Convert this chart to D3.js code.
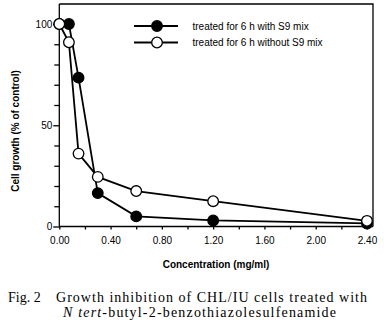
<!DOCTYPE html>
<html>
<head>
<meta charset="utf-8">
<script src="https://cdnjs.cloudflare.com/ajax/libs/d3/7.8.5/d3.min.js"></script>
<style>
  html, body { margin: 0; padding: 0; background: #fff; }
  svg { display: block; }
  .tick text { font-family: "Liberation Sans", Arial, sans-serif; font-size: 10px; fill: #000; }
</style>
</head>
<body>
<svg id="chart" width="384" height="326"></svg>
<script>
// Concentrations (mg/ml) and cell growth (% of control)
const concWithS9 = [0, 0.075, 0.15, 0.3, 0.6, 1.2, 2.4];
const growthWithS9 = [100, 100, 73.5, 16.5, 5, 3, 1.5];
const concWithoutS9 = [0, 0.075, 0.15, 0.3, 0.6, 1.2, 2.4];
const growthWithoutS9 = [100, 91, 36, 24.5, 17.5, 12.5, 2.8];
const seriesNames = ["treated for 6 h with S9 mix", "treated for 6 h without S9 mix"];
const xTickValues = [0, 0.4, 0.8, 1.2, 1.6, 2.0, 2.4];
const xMinorTicks = [0.2, 0.6, 1.0, 1.4, 1.8, 2.2];
const yTickValues = [0, 50, 100];
const yMinorTicks = [10, 20, 30, 40, 60, 70, 80, 90];

const svg = d3.select("#chart");
const plotL = 59.3, plotR = 373, plotT = 4, plotB = 226.5;

const x = d3.scaleLinear().domain([0, 2.4]).range([plotL, 367]);
const y = d3.scaleLinear().domain([0, 100]).range([plotB, 24]);

// Frame (top and right edges)
svg.append("path")
  .attr("d", `M${plotL},${plotT}H${plotR}V${plotB}`)
  .attr("fill", "none").attr("stroke", "#000").attr("stroke-width", 1.3);

// X axis
const xAxis = svg.append("g").attr("transform", `translate(0,${plotB})`)
  .call(d3.axisBottom(x).tickValues(xTickValues).tickFormat(d3.format(".2f")).tickSize(3).tickPadding(7));
svg.append("g").attr("transform", `translate(0,${plotB})`)
  .call(d3.axisBottom(x).tickValues(xMinorTicks).tickFormat("").tickSize(3))
  .select(".domain").remove();
xAxis.select(".domain").attr("d", `M${plotL},0H${plotR}`);

// Y axis
const yAxis = svg.append("g").attr("transform", `translate(${plotL},0)`)
  .call(d3.axisLeft(y).tickValues(yTickValues).tickSize(6).tickPadding(1));
svg.append("g").attr("transform", `translate(${plotL},0)`)
  .call(d3.axisLeft(y).tickValues(yMinorTicks).tickFormat("").tickSize(5))
  .select(".domain").remove();
yAxis.select(".domain").attr("d", `M0,${plotB}V${plotT}`);

svg.selectAll(".domain, .tick line").attr("stroke", "#000").attr("stroke-width", 1.3);

// Axis titles
svg.append("text")
  .attr("x", 216).attr("y", 268).attr("text-anchor", "middle")
  .attr("font-family", "Liberation Sans, Arial, sans-serif").attr("font-weight", "bold").attr("font-size", 10)
  .text("Concentration (mg/ml)");
svg.append("text")
  .attr("transform", "translate(19,131) rotate(-90)").attr("text-anchor", "middle")
  .attr("font-family", "Liberation Sans, Arial, sans-serif").attr("font-weight", "bold").attr("font-size", 10)
  .text("Cell growth (% of control)");

// Series
const withS9 = concWithS9.map((c, i) => ({ c, v: growthWithS9[i] }));
const withoutS9 = concWithoutS9.map((c, i) => ({ c, v: growthWithoutS9[i] }));
const line = d3.line().x(d => x(d.c)).y(d => y(d.v));

function drawSeries(data, fill) {
  svg.append("path").datum(data).attr("d", line)
    .attr("fill", "none").attr("stroke", "#000").attr("stroke-width", 1.8);
  svg.append("g").selectAll("circle").data(data).join("circle")
    .attr("cx", d => x(d.c)).attr("cy", d => y(d.v)).attr("r", 5.3)
    .attr("fill", fill).attr("stroke", "#000").attr("stroke-width", 1.3);
}
drawSeries(withS9, "#000");
drawSeries(withoutS9, "#fff");

// Legend
const legend = svg.append("g");
seriesNames.forEach((name, i) => {
  const ly = 26 + i * 16.5;
  legend.append("line").attr("x1", 134).attr("x2", 178).attr("y1", ly).attr("y2", ly)
    .attr("stroke", "#000").attr("stroke-width", 1.8);
  legend.append("circle").attr("cx", 157).attr("cy", ly).attr("r", 5.3)
    .attr("fill", i === 0 ? "#000" : "#fff").attr("stroke", "#000").attr("stroke-width", 1.3);
  legend.append("text").attr("x", 192.5).attr("y", ly + 3.5)
    .attr("font-family", "Liberation Sans, Arial, sans-serif").attr("font-size", 10)
    .text(name);
});

// Caption
const cap = svg.append("g").attr("font-family", "Liberation Serif, Times New Roman, serif").attr("font-size", 14);
cap.append("text").attr("x", 8).attr("y", 301.5).text("Fig. 2");
cap.append("text").attr("x", 56).attr("y", 301.5)
  .attr("textLength", 311).attr("lengthAdjust", "spacing")
  .text("Growth inhibition of CHL/IU cells treated with");
const c2 = cap.append("text").attr("x", 63).attr("y", 316.5)
  .attr("textLength", 273).attr("lengthAdjust", "spacing");
c2.append("tspan").attr("font-style", "italic").text("N tert");
c2.append("tspan").text("-butyl-2-benzothiazolesulfenamide");
</script>
</body>
</html>
